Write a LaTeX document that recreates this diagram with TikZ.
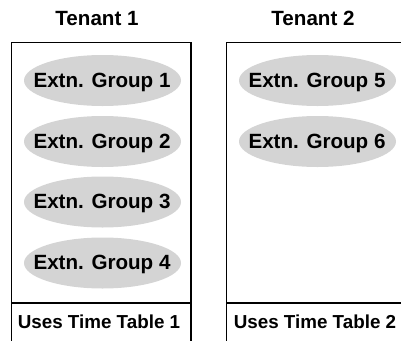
\documentclass[tikz,border=0pt]{standalone}
\usepackage{fontspec}
\setmainfont{Liberation Sans}
\definecolor{grpgray}{RGB}{212,212,212}
\tikzset{
  lbl/.style={font=\bfseries\fontsize{20.6bp}{24bp}\selectfont, inner sep=0pt, text height=14.8bp, text depth=0pt},
  ttl/.style={font=\bfseries\fontsize{18.8bp}{22bp}\selectfont, inner sep=0pt, text height=13.5bp, text depth=0pt},
  grpfill/.style={fill=grpgray},
  frame/.style={draw=black, line width=1.3bp}
}
\begin{document}
\begin{tikzpicture}[x=1bp,y=-1bp]
\useasboundingbox (0,0) rectangle (401,341);
\clip (0,0) rectangle (401,341);
% frames
\coordinate (l1) at (11.5,42.5);
\coordinate (l2) at (191,370);
\coordinate (r1) at (226.5,42.5);
\coordinate (r2) at (406,370);
\draw[frame] (l1) rectangle (l2);
\draw[frame] (r1) rectangle (r2);
\coordinate (ld1) at (11.5,303);
\coordinate (ld2) at (191,303);
\coordinate (rd1) at (226.5,303);
\coordinate (rd2) at (406,303);
\draw[frame] (ld1) -- (ld2);
\draw[frame] (rd1) -- (rd2);
% titles
\node[lbl] (t1) at (97,18) {Tenant 1};
\node[lbl] (t2) at (313,18) {Tenant 2};
% group ellipses
\foreach \cx/\cy in {102.5/80.5, 102.5/141.5, 102.5/202, 102.5/263, 317.5/80.5, 317.5/141.5}
  \fill[grpfill] (\cx,\cy) ellipse [x radius=78.5, y radius=25.5];
% group labels
\node[lbl] (g1) at (102,80) {Extn. Group 1};
\node[lbl] (g2) at (102,141) {Extn. Group 2};
\node[lbl] (g3) at (102,201.5) {Extn. Group 3};
\node[lbl] (g4) at (102,262.5) {Extn. Group 4};
\node[lbl] (g5) at (317,80) {Extn. Group 5};
\node[lbl] (g6) at (317,141) {Extn. Group 6};
% time tables
\node[ttl] (tt1) at (99,322) {Uses Time Table 1};
\node[ttl] (tt2) at (315,322) {Uses Time Table 2};
\end{tikzpicture}
\end{document}
